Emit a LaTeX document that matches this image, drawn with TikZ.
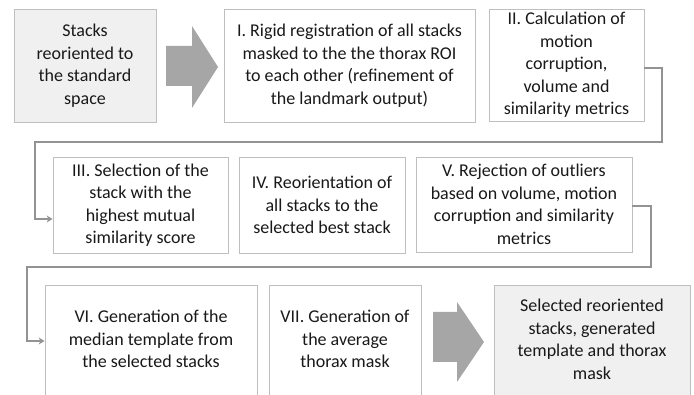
\documentclass[tikz,border=0pt]{standalone}
\usepackage{fontspec}
\setmainfont{Carlito}
\usepackage{tikz}
\usetikzlibrary{positioning,arrows.meta,calc}
\usepackage{xcolor}

% lines of a box whose lower edge runs off the page, lifted a little
\newcommand{\liftlines}[2]{\raisebox{#1}{\begin{tabular}{@{}c@{}}#2\end{tabular}}}

\begin{document}
\begin{tikzpicture}[>=Stealth, x=1pt, y=-1pt,
    box/.style={draw=gray!50, line width=0.8pt, fill=white, align=center, text=black!90,
        font=\fontsize{18}{22.5}\selectfont, inner sep=2pt},
    inout/.style={box, fill=gray!12},
    conn/.style={line width=2pt, gray!85, arrows={-Stealth[length=6pt, width=7pt]}},
    bigarrow/.style={fill=gray!70}]

    \useasboundingbox (0,0) rectangle (694,395);

    % =========================================================================
    % ROW 1: input, registration, metrics
    % =========================================================================
    \node[inout, minimum width=142, minimum height=113] (src) at (85,65.5)
        {Stacks\\reoriented to\\the standard\\space};
    \fill[bigarrow] (166,46) -- (192,46) -- (192,26) -- (218,67) -- (192,108) -- (192,86) -- (166,86) -- cycle;
    \node[box, minimum width=251, minimum height=113] (regis) at (349.5,65.5)
        {I. Rigid registration of all stacks\\masked to the the thorax ROI\\to each other (refinement of\\the landmark output)};
    \node[box, minimum width=155, minimum height=112] (metric) at (566.5,65)
        {II. Calculation of\\motion\\corruption,\\volume and\\similarity metrics};

    % =========================================================================
    % ROW 2: selection, reorientation, rejection
    % =========================================================================
    \node[box, minimum width=175, minimum height=96] (select) at (140.5,205)
        {III. Selection of the\\stack with the\\highest mutual\\similarity score};
    \node[box, minimum width=166, minimum height=96] (reori) at (322,205)
        {IV. Reorientation of\\all stacks to the\\selected best stack};
    \node[box, minimum width=216, minimum height=95] (reject) at (524,204.5)
        {V. Rejection of outliers\\based on volume, motion\\corruption and similarity\\metrics};

    % =========================================================================
    % ROW 3: template, mask, output (boxes run past the lower edge)
    % =========================================================================
    \node[box, minimum width=212, minimum height=112] (median) at (151,341)
        {\liftlines{3pt}{VI. Generation of the\\median template from\\the selected stacks}};
    \node[box, minimum width=152, minimum height=112] (mask) at (345,341)
        {\liftlines{3pt}{VII. Generation of\\the average\\thorax mask}};
    \fill[bigarrow] (433,312) -- (457,312) -- (457,302) -- (484,342) -- (457,382) -- (457,362) -- (433,362) -- cycle;
    \node[inout, minimum width=196, minimum height=112] (result) at (592,341)
        {\liftlines{8pt}{Selected reoriented\\stacks, generated\\template and thorax\\mask}};

    % Row connectors
    \draw[conn] ([yshift=-3pt]metric.east) -- ++(18,0) |- (35,142) |- ([yshift=-14pt]select.west);
    \draw[conn] ([yshift=-1.5pt]reject.east) -- ++(19,0) |- (27,267) |- (median.west);

\end{tikzpicture}
\end{document}
